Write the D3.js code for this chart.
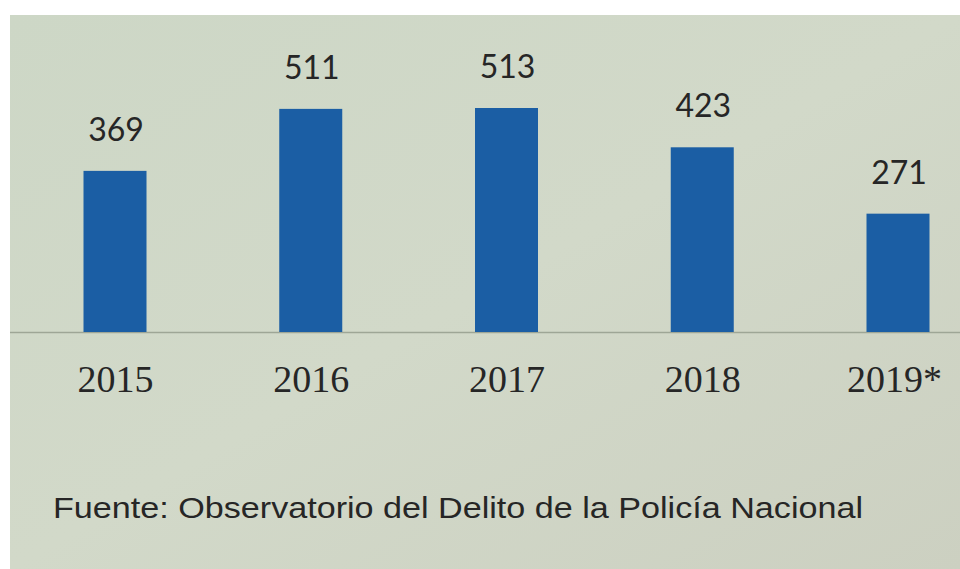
<!DOCTYPE html>
<html>
<head>
<meta charset="utf-8">
<script src="https://cdn.jsdelivr.net/npm/d3@7"></script>
<style>
  html, body { margin: 0; padding: 0; background: #ffffff; }
  svg { display: block; }
</style>
</head>
<body>
<svg id="chart" width="960" height="569"></svg>
<script>
// ---- data ----
const years = ["2015", "2016", "2017", "2018", "2019*"];
const values = [369, 511, 513, 423, 271];
const sourceNote = "Fuente: Observatorio del Delito de la Policía Nacional";

// ---- setup ----
const W = 960, H = 569;
const svg = d3.select("#chart");

const defs = svg.append("defs");
const grad = defs.append("linearGradient").attr("id", "bg")
  .attr("x1", "0").attr("y1", "0").attr("x2", "1").attr("y2", "1");
grad.append("stop").attr("offset", "0").attr("stop-color", "#cdd7c6");
grad.append("stop").attr("offset", "0.5").attr("stop-color", "#d2d9c9");
grad.append("stop").attr("offset", "1").attr("stop-color", "#ccd0c1");

// photo area (white strip at top and left)
svg.append("rect").attr("x", 10).attr("y", 15)
  .attr("width", W - 10).attr("height", H - 15)
  .attr("fill", "url(#bg)");

const baseY = 332;
const x = d3.scalePoint().domain(years).range([115, 898]);
const y = d3.scaleLinear().domain([0, 513]).range([baseY, 108]);
const barW = 63;

// baseline
svg.append("line")
  .attr("x1", 10).attr("x2", W)
  .attr("y1", baseY + 0.5).attr("y2", baseY + 0.5)
  .attr("stroke", "#9ea696").attr("stroke-width", 1.5);

// bars
svg.selectAll("rect.bar").data(values).enter().append("rect")
  .attr("class", "bar")
  .attr("x", (d, i) => x(years[i]) - barW / 2)
  .attr("y", d => y(d))
  .attr("width", barW)
  .attr("height", d => baseY - y(d))
  .attr("fill", "#1b5ea4");

// value labels
svg.selectAll("text.val").data(values).enter().append("text")
  .attr("class", "val")
  .attr("x", (d, i) => x(years[i]) + 1)
  .attr("y", d => y(d) - 30)
  .attr("text-anchor", "middle")
  .attr("font-family", "Lato, 'Open Sans', sans-serif")
  .attr("font-size", 32)
  .attr("fill", "#262626")
  .text(d => d);

// category axis labels
const xAxis = d3.axisBottom(x).tickSize(0).tickPadding(0);
const ax = svg.append("g").attr("transform", `translate(0,${baseY})`).call(xAxis);
ax.select(".domain").remove();
ax.selectAll("text")
  .attr("dy", null)
  .attr("y", 60)
  .attr("font-family", "'Liberation Serif', 'DejaVu Serif', serif")
  .attr("font-size", 38)
  .attr("fill", "#262626");
ax.selectAll(".tick").filter(d => d === "2019*")
  .select("text").attr("dx", -4);

// source note
svg.append("text")
  .attr("x", 53).attr("y", 518)
  .attr("font-family", "'Liberation Sans', Arial, sans-serif")
  .attr("font-size", 30)
  .attr("textLength", 810)
  .attr("lengthAdjust", "spacingAndGlyphs")
  .attr("fill", "#262626")
  .text(sourceNote);
</script>
</body>
</html>
